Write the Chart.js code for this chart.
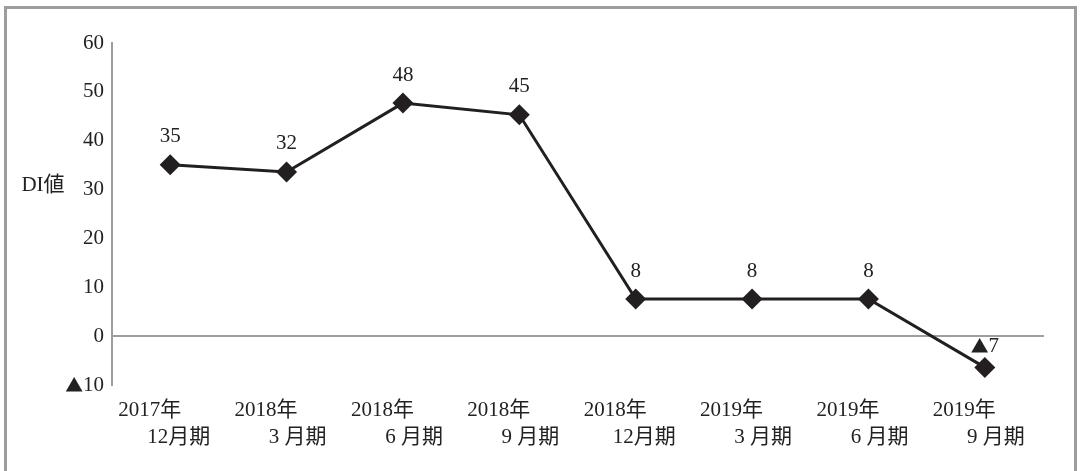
<!DOCTYPE html>
<html>
<head>
<meta charset="utf-8">
<script src="https://cdn.jsdelivr.net/npm/chart.js@4/dist/chart.umd.min.js"></script>
<style>
	html, body { margin: 0; padding: 0; background: #fff; }
	#wrap { position: relative; width: 1082px; height: 471px; overflow: hidden; }
	#frame { position: absolute; left: 4px; top: 6px; width: 1073px; height: 480px; border: 3px solid #9d9d9d; box-sizing: border-box; }
	canvas { position: absolute; left: 0; top: 0; }
</style>
</head>
<body>
<div id="wrap">
	<div id="frame"></div>
	<canvas id="di-chart" width="1082" height="471"></canvas>
</div>
<script>
// values (plotted positions) and the printed labels
const years = [ '2017年', '2018年', '2018年', '2018年', '2018年', '2019年', '2019年', '2019年' ];
const periods = [ '12月期', '3 月期', '6 月期', '9 月期', '12月期', '3 月期', '6 月期', '9 月期' ];
const diValues = [ 35.1, 33.6, 47.7, 45.3, 7.6, 7.6, 7.6, -6.4 ];
const diLabels = [ '35', '32', '48', '45', '8', '8', '8', '▲7' ];
const yTicks = [ 60, 50, 40, 30, 20, 10, 0, -10 ];

const FONT = '"Liberation Serif", "Noto Sans CJK JP", serif';
const MARK_FONT = '"Noto Sans CJK JP", sans-serif';
const SIZE = 21;
const TEXT = '#222';

// draws text where a leading ▲ uses the CJK font (full-width triangle)
const drawMixed = ( ctx, text, x, y, align ) => {
	let mark = '',
		rest = text;
	if ( text.charAt( 0 ) === '▲' ) {
		mark = '▲';
		rest = text.slice( 1 );
	}
	ctx.font = SIZE + 'px ' + MARK_FONT;
	const mw = mark ? ctx.measureText( mark ).width * 0.85 : 0;
	ctx.font = SIZE + 'px ' + FONT;
	const rw = ctx.measureText( rest ).width;
	const total = mw + rw;
	let left = x;
	if ( align === 'center' ) {
		left = x - total / 2;
	} else if ( align === 'right' ) {
		left = x - total;
	}
	ctx.textAlign = 'left';
	if ( mark ) {
		ctx.font = SIZE * 0.85 + 'px ' + MARK_FONT;
		ctx.fillText( mark, left, y );
	}
	ctx.font = SIZE + 'px ' + FONT;
	ctx.fillText( rest, left + mw, y );
};

const labelPlugin = {
	id: 'labelPlugin',
	afterDatasetsDraw( chart ) {
		const ctx = chart.ctx;
		const meta = chart.getDatasetMeta( 0 );
		const xScale = chart.scales.x;
		const yScale = chart.scales.y;
		ctx.save();
		ctx.fillStyle = TEXT;
		ctx.textBaseline = 'middle';
		// y tick labels
		yTicks.forEach( ( v ) => {
			const t = v < 0 ? '▲' + Math.abs( v ) : '' + v;
			drawMixed( ctx, t, 104, yScale.getPixelForValue( v ), 'right' );
		} );
		// point value labels
		meta.data.forEach( ( pt, i ) => {
			const off = diValues[ i ] < 0 ? 21 : 28;
			drawMixed( ctx, diLabels[ i ], pt.x, pt.y - off, 'center' );
		} );
		// category labels, two lines
		ctx.font = SIZE + 'px ' + FONT;
		for ( let i = 0; i < years.length; i++ ) {
			const cx = xScale.getPixelForTick( i );
			ctx.textAlign = 'left';
			ctx.fillText( years[ i ], cx - 52, 410 );
			ctx.textAlign = 'right';
			ctx.fillText( periods[ i ], cx + 40, 437 );
		}
		// y axis title
		ctx.textAlign = 'center';
		ctx.fillText( 'DI値', 43, 185 );
		ctx.restore();
	},
};

new Chart( document.getElementById( 'di-chart' ), {
	type: 'line',
	data: {
		labels: years.map( ( y, i ) => y + periods[ i ] ),
		datasets: [
			{
				data: diValues,
				borderColor: '#231f20',
				borderWidth: 3,
				backgroundColor: '#231f20',
				pointStyle: 'rectRot',
				pointRadius: 10.5,
				pointBorderWidth: 0,
				pointBackgroundColor: '#231f20',
				tension: 0,
			},
		],
	},
	options: {
		responsive: false,
		animation: false,
		layout: {
			padding: { left: 0, top: 43, right: 39, bottom: 86 },
		},
		plugins: {
			legend: { display: false },
			tooltip: { enabled: false },
		},
		scales: {
			x: {
				type: 'category',
				offset: true,
				position: { y: 0 },
				grid: { display: false, drawTicks: false },
				border: { display: true, color: '#9d9d9d', width: 2 },
				ticks: { display: false },
			},
			y: {
				min: -10,
				max: 60,
				afterFit: ( scale ) => {
					scale.width = 112;
				},
				afterBuildTicks: ( scale ) => {
					scale.ticks = yTicks.map( ( v ) => ( { value: v } ) );
				},
				grid: { display: false, drawTicks: false },
				border: { display: true, color: '#9d9d9d', width: 2 },
				// tick text is drawn by labelPlugin so the ▲ can use a wider glyph
				ticks: { display: false },
			},
		},
	},
	plugins: [ labelPlugin ],
} );
</script>
</body>
</html>
